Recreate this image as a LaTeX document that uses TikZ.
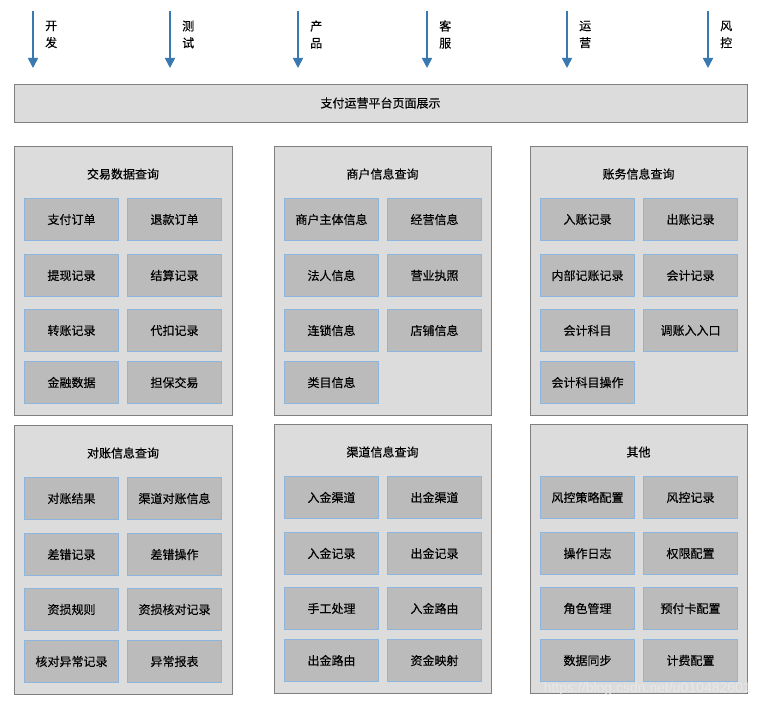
\documentclass[tikz,border=0pt]{standalone}
\usepackage{fontspec}
\setmainfont{Noto Sans CJK SC}[FakeBold=0.25]
\usetikzlibrary{arrows.meta}
\tikzset{
  panel/.style={draw=panelline,fill=panelfill,line width=1pt,inner sep=0pt,anchor=north west},
  cell/.style={draw=cellline,fill=cellfill,line width=1pt,inner sep=0pt,minimum width=94pt,minimum height=42pt,anchor=north west,font=\fontsize{12}{14}\selectfont},
  title/.style={font=\fontsize{12}{14}\selectfont,inner sep=0pt},
  flow/.style={draw=flowblue,line width=1.6pt,-{Triangle[width=10pt,length=10pt]}},
  role/.style={font=\fontsize{12}{17}\selectfont,align=left,anchor=west,inner sep=0pt}
}
\begin{document}
\begin{tikzpicture}[x=1pt,y=-1pt]
\definecolor{panelfill}{HTML}{DCDCDC}
\definecolor{panelline}{HTML}{808080}
\definecolor{cellfill}{HTML}{BBBBBB}
\definecolor{cellline}{HTML}{8DB6DE}
\definecolor{flowblue}{HTML}{3A78B0}
\clip (0,0) rectangle (761,706);
% roles
\coordinate (dev-top) at (33,11);  \coordinate (dev-tip) at (33,68);
\coordinate (qa-top) at (170,11);  \coordinate (qa-tip) at (170,68);
\coordinate (pm-top) at (298,11);  \coordinate (pm-tip) at (298,68);
\coordinate (cs-top) at (427,11);  \coordinate (cs-tip) at (427,68);
\coordinate (op-top) at (567,11);  \coordinate (op-tip) at (567,68);
\coordinate (rk-top) at (708,11);  \coordinate (rk-tip) at (708,68);
\draw[flow] (dev-top) -- (dev-tip);
\draw[flow] (qa-top) -- (qa-tip);
\draw[flow] (pm-top) -- (pm-tip);
\draw[flow] (cs-top) -- (cs-tip);
\draw[flow] (op-top) -- (op-tip);
\draw[flow] (rk-top) -- (rk-tip);
\node[role] (dev) at (45,34.5) {开\\发};
\node[role] (qa) at (182,34.5) {测\\试};
\node[role] (pm) at (310,34.5) {产\\品};
\node[role] (cs) at (439,34.5) {客\\服};
\node[role] (op) at (579,34.5) {运\\营};
\node[role] (rk) at (720,34.5) {风\\控};
% banner
\node[panel,minimum width=733pt,minimum height=38pt] (banner) at (14,84) {};
\node[title] (banner-t) at (380.5,103) {支付运营平台页面展示};
% panels
\node[panel,minimum width=218pt,minimum height=269pt] (trade) at (14,146) {};
\node[panel,minimum width=217pt,minimum height=269pt] (merchant) at (274,146) {};
\node[panel,minimum width=217pt,minimum height=269pt] (account) at (530,146) {};
\node[panel,minimum width=218pt,minimum height=269pt] (recon) at (14,425) {};
\node[panel,minimum width=217pt,minimum height=269pt] (channel) at (274,424) {};
\node[panel,minimum width=217pt,minimum height=269pt] (other) at (530,424) {};
\node[title] (trade-t) at (123,174) {交易数据查询};
\node[title] (merchant-t) at (382.5,174) {商户信息查询};
\node[title] (account-t) at (638.5,174) {账务信息查询};
\node[title] (recon-t) at (123,453) {对账信息查询};
\node[title] (channel-t) at (382.5,452) {渠道信息查询};
\node[title] (other-t) at (638.5,452) {其他};
% trade
\node[cell] (trade-a1) at (24,198) {支付订单};
\node[cell] (trade-b1) at (127,198) {退款订单};
\node[cell] (trade-a2) at (24,254) {提现记录};
\node[cell] (trade-b2) at (127,254) {结算记录};
\node[cell] (trade-a3) at (24,309) {转账记录};
\node[cell] (trade-b3) at (127,309) {代扣记录};
\node[cell] (trade-a4) at (24,361) {金融数据};
\node[cell] (trade-b4) at (127,361) {担保交易};
% merchant
\node[cell] (merchant-a1) at (284,198) {商户主体信息};
\node[cell] (merchant-b1) at (387,198) {经营信息};
\node[cell] (merchant-a2) at (284,254) {法人信息};
\node[cell] (merchant-b2) at (387,254) {营业执照};
\node[cell] (merchant-a3) at (284,309) {连锁信息};
\node[cell] (merchant-b3) at (387,309) {店铺信息};
\node[cell] (merchant-a4) at (284,361) {类目信息};
% account
\node[cell] (account-a1) at (540,198) {入账记录};
\node[cell] (account-b1) at (643,198) {出账记录};
\node[cell] (account-a2) at (540,254) {内部记账记录};
\node[cell] (account-b2) at (643,254) {会计记录};
\node[cell] (account-a3) at (540,309) {会计科目};
\node[cell] (account-b3) at (643,309) {调账入入口};
\node[cell] (account-a4) at (540,361) {会计科目操作};
% recon
\node[cell] (recon-a1) at (24,477) {对账结果};
\node[cell] (recon-b1) at (127,477) {渠道对账信息};
\node[cell] (recon-a2) at (24,533) {差错记录};
\node[cell] (recon-b2) at (127,533) {差错操作};
\node[cell] (recon-a3) at (24,588) {资损规则};
\node[cell] (recon-b3) at (127,588) {资损核对记录};
\node[cell] (recon-a4) at (24,640) {核对异常记录};
\node[cell] (recon-b4) at (127,640) {异常报表};
% channel
\node[cell] (channel-a1) at (284,476) {入金渠道};
\node[cell] (channel-b1) at (387,476) {出金渠道};
\node[cell] (channel-a2) at (284,532) {入金记录};
\node[cell] (channel-b2) at (387,532) {出金记录};
\node[cell] (channel-a3) at (284,587) {手工处理};
\node[cell] (channel-b3) at (387,587) {入金路由};
\node[cell] (channel-a4) at (284,639) {出金路由};
\node[cell] (channel-b4) at (387,639) {资金映射};
% other
\node[cell] (other-a1) at (540,476) {风控策略配置};
\node[cell] (other-b1) at (643,476) {风控记录};
\node[cell] (other-a2) at (540,532) {操作日志};
\node[cell] (other-b2) at (643,532) {权限配置};
\node[cell] (other-a3) at (540,587) {角色管理};
\node[cell] (other-b3) at (643,587) {预付卡配置};
\node[cell] (other-a4) at (540,639) {数据同步};
\node[cell] (other-b4) at (643,639) {计费配置};
% watermark
\node[anchor=base east,inner sep=0pt,text=white!82!gray,font=\fontspec{Liberation Sans}\fontsize{14}{16}\selectfont] (mark) at (751,692) {https://blog.csdn.net/u010482601};
\end{tikzpicture}
\end{document}
